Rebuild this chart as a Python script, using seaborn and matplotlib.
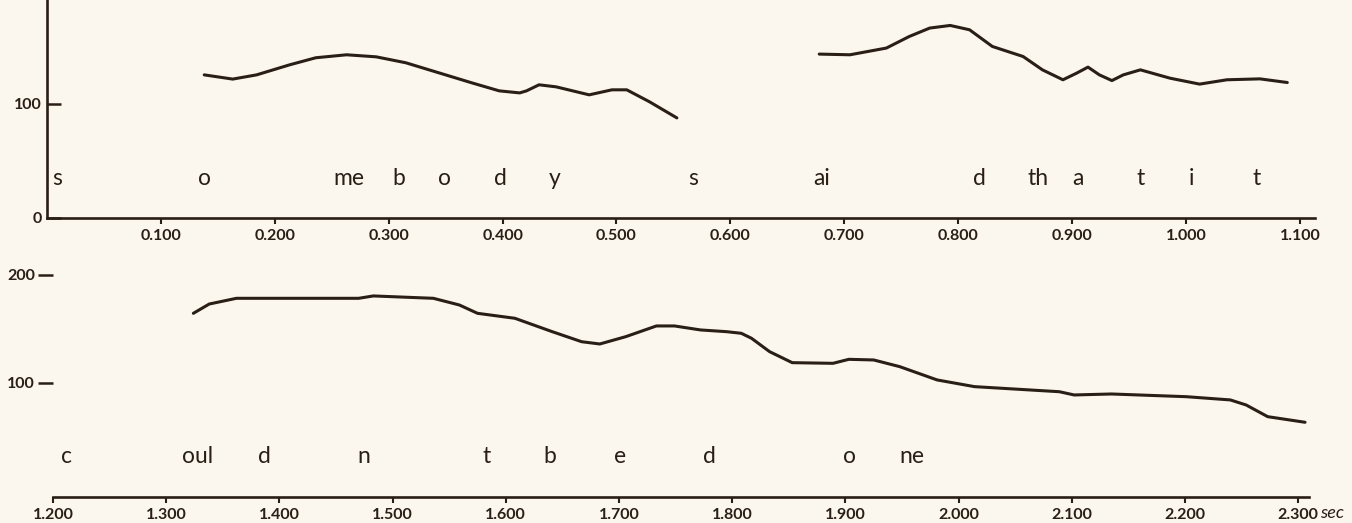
import numpy as np
import pandas as pd
import matplotlib
matplotlib.use("Agg")
import matplotlib.pyplot as plt
import seaborn as sns

# pitch contour values (Hz), time in seconds
some_t = [0.138, 0.163, 0.184, 0.213, 0.236, 0.263, 0.289, 0.315, 0.344, 0.373,
          0.397, 0.415, 0.421, 0.432, 0.447, 0.476, 0.496, 0.509, 0.529, 0.553]
some_f = [125.4, 121.7, 125.4, 134.2, 140.4, 143.0, 141.2, 136.0, 127.2, 118.4,
          111.4, 109.6, 111.4, 116.7, 114.9, 107.9, 112.3, 112.3, 101.8, 87.7]

said_t = [0.678, 0.705, 0.737, 0.757, 0.775, 0.793, 0.810, 0.830, 0.845, 0.857,
          0.874, 0.892, 0.904, 0.914, 0.924, 0.935, 0.945, 0.960, 0.986, 1.012,
          1.036, 1.065, 1.089]
said_f = [143.6, 143.0, 148.9, 159.0, 166.4, 168.7, 164.9, 150.3, 145.4, 141.5,
          129.8, 121.1, 126.9, 132.2, 125.4, 120.4, 125.4, 129.8, 122.5, 117.3,
          121.1, 121.9, 118.7]

could_t = [1.324, 1.338, 1.362, 1.411, 1.470, 1.483, 1.536, 1.559, 1.575, 1.608,
           1.641, 1.667, 1.683, 1.706, 1.733, 1.749, 1.772, 1.795, 1.808, 1.817,
           1.833, 1.853, 1.889, 1.903, 1.925, 1.948, 1.981, 2.014, 2.089, 2.102,
           2.135, 2.201, 2.240, 2.254, 2.273, 2.306]
could_f = [164.5, 173.1, 178.4, 178.4, 178.4, 180.6, 178.4, 172.2, 164.5, 159.9,
           147.5, 138.2, 136.1, 142.9, 152.8, 152.8, 149.1, 147.5, 146.0, 141.4,
           129.0, 118.8, 118.2, 121.9, 121.3, 115.1, 102.8, 96.6, 91.9, 88.9,
           89.8, 87.3, 84.3, 79.6, 68.8, 63.6]

# phonetic segments written under the traces
top_letters = ["s", "o", "me", "b", "o", "d", "y", "s", "ai", "d", "th", "a", "t", "i", "t"]
top_letter_t = [0.009, 0.138, 0.265, 0.309, 0.349, 0.398, 0.446, 0.567, 0.680,
                0.819, 0.870, 0.905, 0.960, 1.005, 1.062]
bot_letters = ["c", "oul", "d", "n", "t", "b", "e", "d", "o", "ne"]
bot_letter_t = [1.212, 1.328, 1.387, 1.475, 1.583, 1.639, 1.701, 1.780, 1.904, 1.959]

top_xticks = [0.1, 0.2, 0.3, 0.4, 0.5, 0.6, 0.7, 0.8, 0.9, 1.0, 1.1]
top_xlabels = ["0.100", "0.200", "0.300", "0.400", "0.500", "0.600", "0.700",
               "0.800", "0.900", "1.000", "1.100"]
bot_xticks = [1.2, 1.3, 1.4, 1.5, 1.6, 1.7, 1.8, 1.9, 2.0, 2.1, 2.2, 2.3]
bot_xlabels = ["1.200", "1.300", "1.400", "1.500", "1.600", "1.700", "1.800",
               "1.900", "2.000", "2.100", "2.200", "2.300"]
top_yticks = [0, 100]
top_ylabels = ["0", "100"]
bot_yticks = [100, 200]
bot_ylabels = ["100", "200"]

paper = "#fbf7ee"
ink = "#2a1f17"

sns.set_style("ticks")
plt.rcParams["font.family"] = ["Lato", "DejaVu Sans"]
plt.rcParams["axes.facecolor"] = paper
plt.rcParams["figure.facecolor"] = paper

fig = plt.figure(figsize=(13.52, 5.23), dpi=100)
ax1 = fig.add_axes([0.0348, 0.5832, 0.9379, 0.4168])
ax2 = fig.add_axes([0.0392, 0.0497, 0.929, 0.4493])

sns.lineplot(x=some_t, y=some_f, ax=ax1, color=ink, lw=2.2, sort=False, estimator=None)
sns.lineplot(x=said_t, y=said_f, ax=ax1, color=ink, lw=2.2, sort=False, estimator=None)
sns.lineplot(x=could_t, y=could_f, ax=ax2, color=ink, lw=2.2, sort=False, estimator=None)

for lab, t in zip(top_letters, top_letter_t):
    ax1.text(t, 35, lab, ha="center", va="center", fontsize=16.5, color=ink)
for lab, t in zip(bot_letters, bot_letter_t):
    ax2.text(t, 31.5, lab, ha="center", va="center", fontsize=16.5, color=ink)

# top panel
ax1.set_xlim(0, 1.1134)
ax1.set_ylim(0, 191)
ax1.set_xticks(top_xticks)
ax1.set_xticklabels(top_xlabels, fontweight="bold")
ax1.set_yticks(top_yticks)
ax1.set_yticklabels(top_ylabels, fontweight="bold")
ax1.tick_params(axis="x", direction="out", length=4, width=1.5, pad=4,
                labelsize=11.5, colors=ink)
ax1.tick_params(axis="y", direction="in", length=10, width=1.8, pad=4,
                labelsize=11.5, colors=ink)
for s in ["top", "right"]:
    ax1.spines[s].set_visible(False)
for s in ["left", "bottom"]:
    ax1.spines[s].set_linewidth(1.9)
    ax1.spines[s].set_color(ink)

# bottom panel
ax2.set_xlim(1.2, 2.3095)
ax2.set_ylim(-5.6, 212)
ax2.set_xticks(bot_xticks)
ax2.set_xticklabels(bot_xlabels, fontweight="bold")
ax2.set_yticks(bot_yticks)
ax2.set_yticklabels(bot_ylabels, fontweight="bold")
ax2.tick_params(axis="x", direction="out", length=4, width=1.5, pad=4,
                labelsize=11.5, colors=ink)
ax2.tick_params(axis="y", direction="out", length=11, width=1.8, pad=2,
                labelsize=11.5, colors=ink)
for s in ["top", "right", "left"]:
    ax2.spines[s].set_visible(False)
ax2.spines["bottom"].set_linewidth(1.9)
ax2.spines["bottom"].set_color(ink)

fig.text(1320 / 1352, 1 - 513 / 523, "sec", style="italic", fontsize=13,
         color=ink, va="center", ha="left")

fig.savefig("out.png", dpi=100, facecolor=paper)
